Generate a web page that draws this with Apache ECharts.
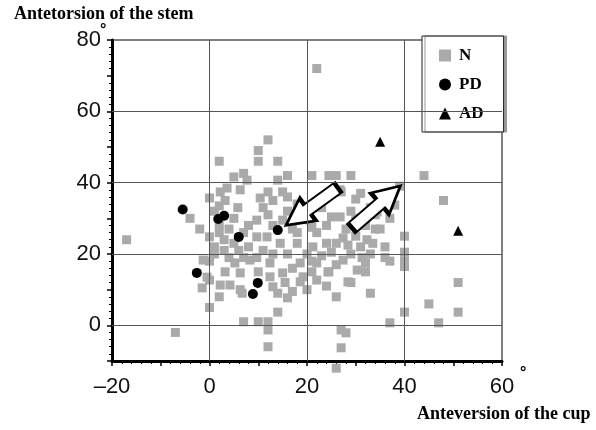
<!DOCTYPE html>
<html>
<head>
<meta charset="utf-8">
<script src="https://cdn.jsdelivr.net/npm/echarts@6/dist/echarts.min.js"></script>
<style>
  html, body { margin: 0; padding: 0; background: #fff; }
  #chart { width: 596px; height: 430px; }
</style>
</head>
<body>
<div id="chart"></div>
<script>
// N group (grey squares): [anteversion of cup, antetorsion of stem]
const nData = [
  [22, 72], [-17, 24], [-7, -2], [-4, 30], [-2, 27], [0, 5], [-1.5, 10.5], [-0.5, 13.5], [0, 18],
  [2, 8], [7, 1], [10, 1], [12, 1], [12, -1.3], [12, -6], [14, 3.7], [14, 9], [16, 7.7],
  [48, 35], [44, 42], [40, 25], [35, 27], [37, 30], [39, 39], [37, 18], [40, 18], [40, 20.5],
  [40, 16.5], [51, 12], [51, 3.7], [45, 6], [47, 0.7], [40, 3.7], [37, 0.7], [33, 9], [29, 12],
  [26, 8], [27, -1.3], [28, -2.1], [27, -6.3], [26, -12], [32, 17.5], [32, 15], [36, 22],
  [33.5, 23], [32.3, 24], [24.5, 15], [22, 12.7],
  [2, 46], [10, 49], [10, 46], [12, 52], [14, 46], [5, 41.6], [7, 42.6], [7.7, 40.7], [3.6, 38.5],
  [6.3, 38], [12, 37.4], [14, 40.7], [16, 42], [15, 37.4], [21, 42], [24.5, 42], [26, 42],
  [29, 42], [27, 37.4], [30, 35.4], [26.8, 38], [0, 35.7], [2.2, 37.4], [3.2, 35], [5.8, 33],
  [10.4, 35.7], [13, 35], [16, 36], [1, 32], [2, 33.5],
  [12, 31], [15, 29.5], [20.6, 29.5], [25, 30.4], [26.8, 30.4], [11.8, 24.8], [14.5, 23], [18, 23],
  [21.2, 22], [24, 23], [26, 23], [28.4, 22.5], [31, 22], [18, 26], [22, 26], [27.4, 24.5],
  [12.4, 17.5], [15, 14.7], [18.6, 17.5], [19.2, 13.6], [22, 17.5], [24.3, 15], [27.4, 18.3],
  [30.3, 15.5], [31.3, 19], [12.4, 13.6], [15.5, 12], [18.6, 12.2], [28.4, 12.2], [13, 10.8],
  [-1.3, 18.3], [0, 24.8], [1, 22], [1, 20], [2, 26], [2, 28], [3, 24], [3, 21], [4, 19], [4, 27],
  [5, 23], [5, 30], [6, 21], [7, 19], [7, 26], [8, 22], [8, 28], [9.7, 29.5], [9.7, 24.8], [9.7, 19],
  [5.2, 17.5], [8.3, 18.3], [3.2, 15], [6.3, 14.7], [0, 12.7], [2.2, 11.3], [4.2, 11.3], [6.3, 10],
  [6.7, 9], [11, 33], [13, 28], [16, 32], [17, 27], [18, 34], [19, 31], [21, 27.5], [23, 33],
  [24, 28], [28, 27], [29, 32], [30, 30], [32, 28], [33, 33], [31, 37], [34, 31],
  [10, 15], [11, 21], [13, 20], [16, 20], [17, 16], [20, 20], [21, 15], [23, 19.5], [25, 20.5],
  [26, 17], [29, 20], [30, 25], [33, 20], [34, 27], [36, 19], [20, 10], [24, 11], [17, 9.5],
  [38, 33.7], [34.4, 31.8], [21, 18]
];
// PD group (black circles)
const pdData = [
  [-5.5, 32.5], [1.8, 29.8], [3, 30.7], [6, 24.8], [14, 26.7], [-2.6, 14.7], [9.9, 11.9], [8.9, 8.8]
];
// AD group (black triangles)
const adData = [[35, 51.5], [51, 26.5]];

// hollow arrows drawn over the cloud: [x, y, rotation in degrees]
const arrowData = [[21, 33.3, 216], [34.2, 33.2, 41]];

const xGrid = [0, 20, 40];
const yGrid = [0, 20, 40, 60];

const myChart = echarts.init(document.getElementById('chart'));

const labelFont = {
  color: '#111',
  fontSize: 22,
  fontFamily: 'Liberation Sans'
};
const dash = v => String(v).replace('-', '\u2013');

const option = {
  animation: false,
  backgroundColor: '#fff',
  grid: {
    left: 112, right: 94, top: 40, bottom: 69,
    show: true, borderColor: '#555', borderWidth: 1.5
  },
  xAxis: {
    type: 'value',
    min: -20, max: 60, interval: 10,
    axisLine: { show: true, onZero: false, lineStyle: { color: '#000', width: 3 } },
    axisTick: { show: true, length: 5, lineStyle: { color: '#000', width: 1.5 } },
    minorTick: { show: true, splitNumber: 5, length: 3, lineStyle: { color: '#000', width: 1 } },
    splitLine: { show: false },
    axisLabel: Object.assign({
      margin: 15,
      formatter: v => (v % 20 === 0 ? dash(v) : '')
    }, labelFont)
  },
  yAxis: {
    type: 'value',
    min: -10, max: 80, interval: 10,
    axisLine: { show: true, onZero: false, lineStyle: { color: '#000', width: 3 } },
    axisTick: { show: true, length: 5, lineStyle: { color: '#000', width: 1.5 } },
    minorTick: { show: true, splitNumber: 5, length: 3, lineStyle: { color: '#000', width: 1 } },
    splitLine: { show: false },
    axisLabel: Object.assign({
      margin: 11,
      formatter: v => (v % 20 === 0 && v >= 0 ? dash(v) : '')
    }, labelFont)
  },
  legend: {
    data: ['N', 'PD', 'AD'],
    orient: 'vertical',
    left: 422, top: 36,
    padding: [11, 20, 10, 17],
    itemGap: 12,
    itemWidth: 12, itemHeight: 12,
    backgroundColor: '#fff',
    borderColor: '#222', borderWidth: 1,
    shadowColor: '#999', shadowOffsetX: 3, shadowOffsetY: 0, shadowBlur: 0,
    textStyle: { fontFamily: 'Liberation Serif', fontWeight: 'bold', fontSize: 17, color: '#000', padding: [0, 0, 0, 3] }
  },
  graphic: [
    {
      type: 'text', left: 14, top: 5,
      style: { text: 'Antetorsion of the stem', fill: '#000', font: 'bold 18px "Liberation Serif"' }
    },
    {
      type: 'text', left: 417, top: 405,
      style: { text: 'Anteversion of the cup', fill: '#000', font: 'bold 18px "Liberation Serif"' }
    },
    {
      type: 'text', left: 100, top: 23,
      style: { text: '\u00b0', fill: '#000', font: 'bold 16px "Liberation Sans"' }
    },
    {
      type: 'text', left: 520, top: 366,
      style: { text: '\u00b0', fill: '#000', font: 'bold 16px "Liberation Sans"' }
    }
  ],
  series: [
    {
      // inner grid lines
      name: 'grid',
      type: 'scatter',
      data: [],
      z: 1,
      markLine: {
        silent: true,
        symbol: 'none',
        label: { show: false },
        lineStyle: { color: '#555', width: 1, type: 'solid' },
        data: xGrid.map(v => ({ xAxis: v })).concat(yGrid.map(v => ({ yAxis: v })))
      }
    },
    {
      name: 'N',
      type: 'scatter',
      symbol: 'rect',
      symbolSize: 9,
      clip: false,
      z: 2,
      itemStyle: { color: '#aaaaaa', opacity: 1 },
      data: nData
    },
    {
      name: 'arrows',
      type: 'scatter',
      symbol: 'path://M0 14 L58 14 L58 0 L100 25 L58 50 L58 36 L0 36 Z',
      symbolSize: [64, 28],
      symbolRotate: d => d[2],
      z: 3,
      itemStyle: { color: '#fff', borderColor: '#000', borderWidth: 3, opacity: 1 },
      data: arrowData
    },
    {
      name: 'PD',
      type: 'scatter',
      symbol: 'circle',
      symbolSize: 10,
      z: 4,
      itemStyle: { color: '#000', opacity: 1 },
      data: pdData
    },
    {
      name: 'AD',
      type: 'scatter',
      symbol: 'triangle',
      symbolSize: 10,
      z: 4,
      itemStyle: { color: '#000', opacity: 1 },
      data: adData
    }
  ]
};

myChart.setOption(option);
window.addEventListener('resize', function () {
  myChart.resize();
});
</script>
</body>
</html>
